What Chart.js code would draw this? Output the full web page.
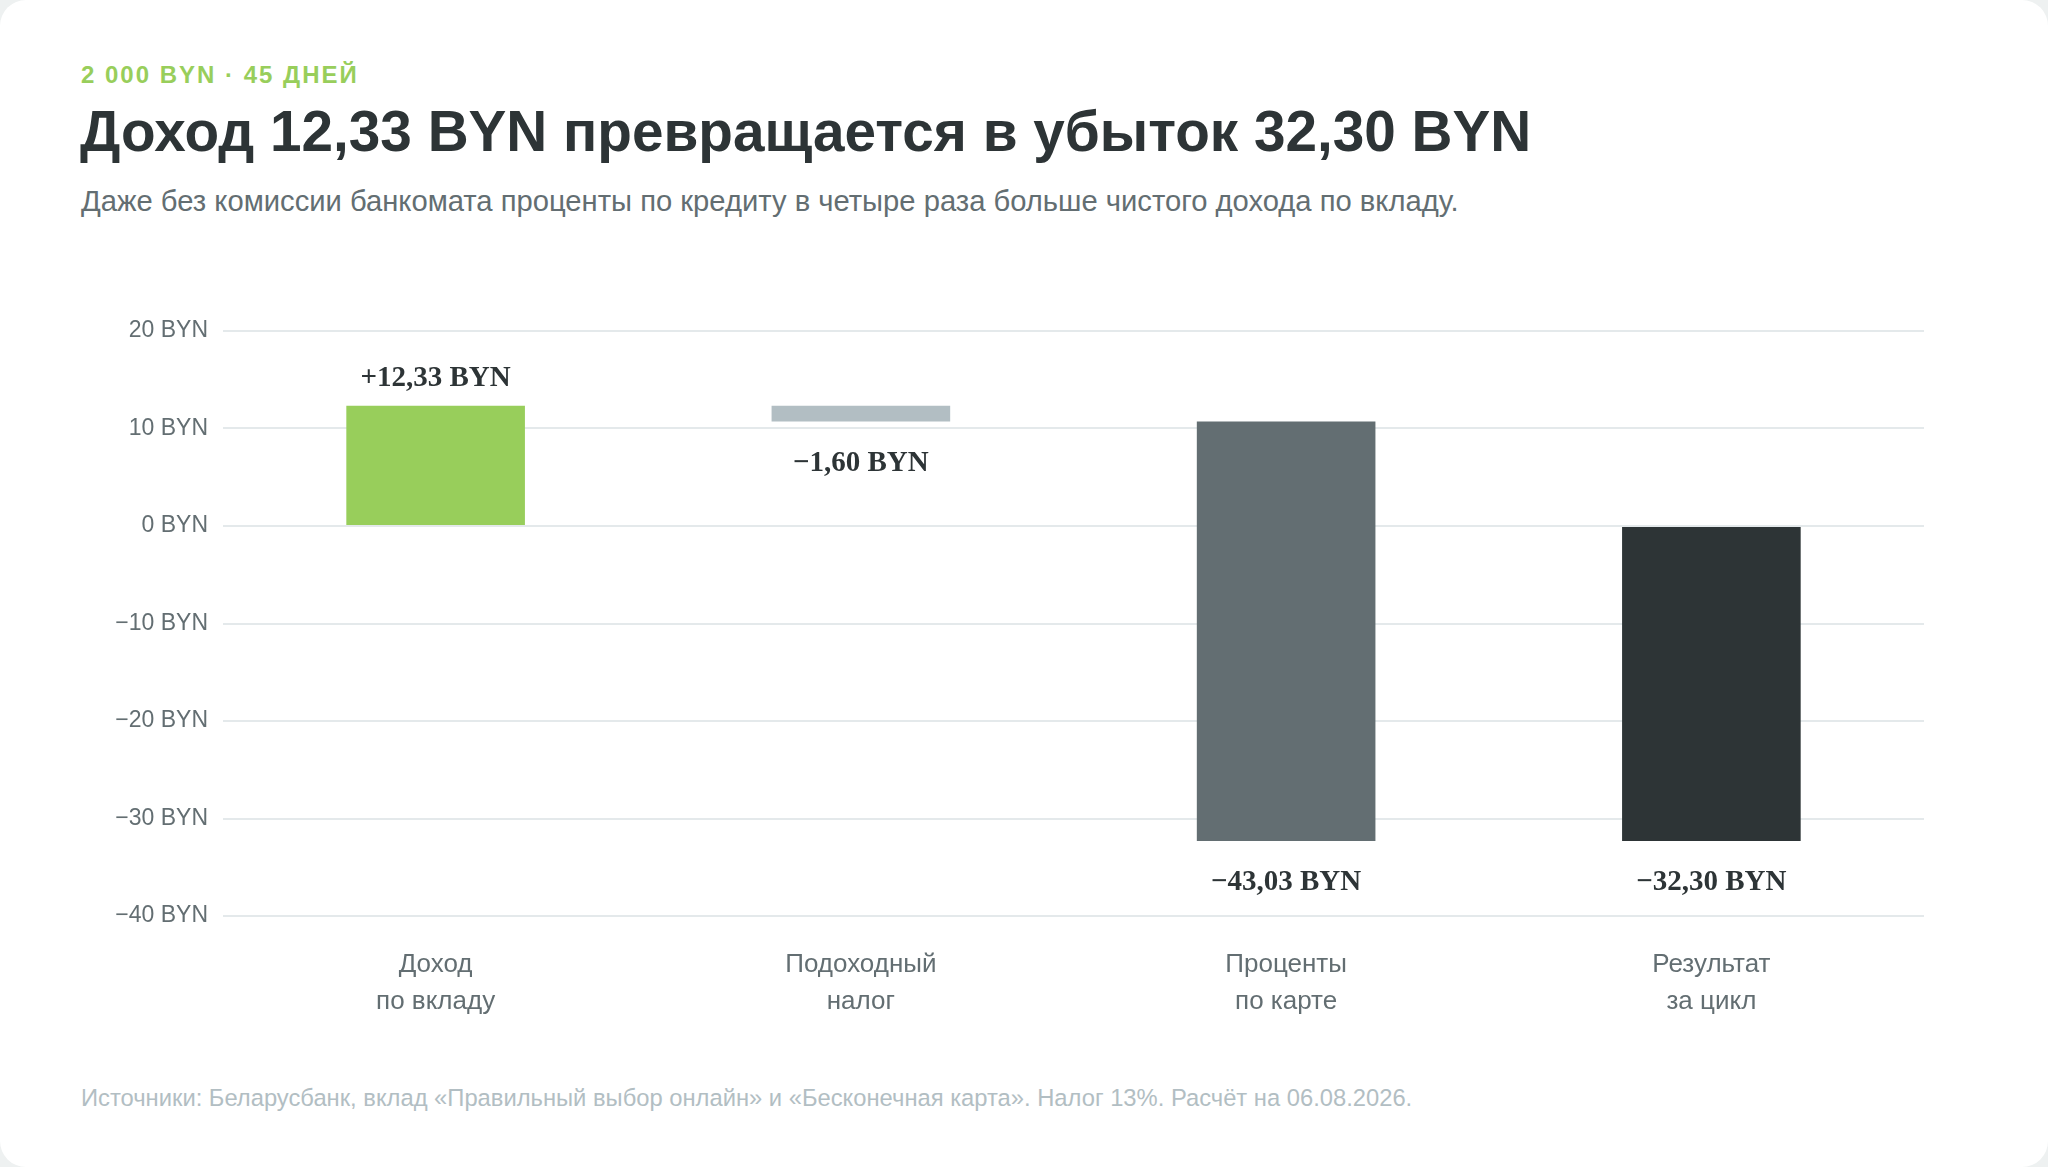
<!DOCTYPE html>
<html lang="ru">
<head>
<meta charset="utf-8">
<script src="https://cdn.jsdelivr.net/npm/chart.js@4"></script>
<style>
  html, body { margin: 0; padding: 0; }
  body { width: 2048px; height: 1167px; background: #eef1f1; font-family: "Liberation Sans", Arial, sans-serif; overflow: hidden; }
  .card { position: absolute; left: 0; top: 0; width: 2048px; height: 1167px; background: #ffffff; border-radius: 26px; }
  .eyebrow { position: absolute; left: 81px; top: 61px; font-size: 24px; font-weight: 700; color: #98ce5b; letter-spacing: 2px; white-space: nowrap; }
  .title { position: absolute; left: 80px; top: 99px; font-size: 56.7px; font-weight: 700; color: #2d3436; white-space: nowrap; }
  .subtitle { position: absolute; left: 81px; top: 185px; font-size: 29.2px; color: #636e72; white-space: nowrap; }
  .footer { position: absolute; left: 81px; top: 1084px; font-size: 23.75px; color: #b2bec3; white-space: nowrap; }
  .chartbox { position: absolute; left: 0; top: 291px; width: 2048px; height: 750px; }
</style>
</head>
<body>
<div class="card">
  <div class="eyebrow">2 000 BYN · 45 ДНЕЙ</div>
  <div class="title">Доход 12,33 BYN превращается в убыток 32,30 BYN</div>
  <div class="subtitle">Даже без комиссии банкомата проценты по кредиту в четыре раза больше чистого дохода по вкладу.</div>
  <div class="chartbox"><canvas id="c"></canvas></div>
  <div class="footer">Источники: Беларусбанк, вклад «Правильный выбор онлайн» и «Бесконечная карта». Налог 13%. Расчёт на 06.08.2026.</div>
</div>
<script>
// ---- data ----
const categories = [["Доход", "по вкладу"], ["Подоходный", "налог"], ["Проценты", "по карте"], ["Результат", "за цикл"]];
const changes = [12.33, -1.60, -43.03, -32.30];   // value of each step
const isTotal = [false, false, false, true];       // last bar is the total
const barColors = ["#98ce5b", "#b2bec3", "#636e72", "#2d3436"];
const yTicks = [20, 10, 0, -10, -20, -30, -40];

// floating ranges for the waterfall
const ranges = [];
let running = 0;
changes.forEach((v, i) => {
  if (isTotal[i]) { ranges.push([0, v]); }
  else { ranges.push([running, running + v]); running += v; }
});

const fmtNum = (v, dec) => {
  const s = Math.abs(v).toFixed(dec).replace('.', ',');
  return (v < 0 ? '\u2212' : '') + s;
};
const fmtLabel = v => (v > 0 ? '+' : '\u2212') + Math.abs(v).toFixed(2).replace('.', ',') + ' BYN';

const valueLabels = {
  id: 'valueLabels',
  afterDatasetsDraw(chart) {
    const ctx = chart.ctx;
    const meta = chart.getDatasetMeta(0);
    ctx.save();
    ctx.font = 'bold 29px "Liberation Serif", "Times New Roman", serif';
    ctx.fillStyle = '#2d3436';
    ctx.textAlign = 'center';
    ctx.textBaseline = 'middle';
    meta.data.forEach((el, i) => {
      const v = changes[i];
      const top = Math.min(el.y, el.base);
      const bottom = Math.max(el.y, el.base);
      const y = v > 0 ? top - 27 : bottom + 42;
      ctx.fillText(fmtLabel(v), el.x, y);
    });
    ctx.restore();
  }
};

new Chart(document.getElementById('c'), {
  type: 'bar',
  data: {
    labels: categories,
    datasets: [{
      data: ranges,
      backgroundColor: barColors,
      borderWidth: 0,
      borderSkipped: false,
      categoryPercentage: 1,
      barPercentage: 0.42
    }]
  },
  options: {
    responsive: true,
    maintainAspectRatio: false,
    devicePixelRatio: 1,
    animation: false,
    layout: { padding: { top: 40, right: 124, left: 0, bottom: 0 } },
    plugins: { legend: { display: false }, tooltip: { enabled: false } },
    scales: {
      x: {
        grid: { display: false, drawTicks: false },
        border: { display: false },
        ticks: {
          padding: 31,
          color: '#636e72',
          font: { family: '"Liberation Sans", Arial, sans-serif', size: 26, lineHeight: 1.4 }
        },
        afterFit(s) { s.height = 125; }
      },
      y: {
        min: -40, max: 20,
        afterBuildTicks(s) { s.ticks = yTicks.map(v => ({ value: v })); },
        grid: { color: '#e4e9eb', lineWidth: 2, drawTicks: false },
        border: { display: false },
        ticks: {
          padding: 15,
          color: '#636e72',
          font: { family: '"Liberation Sans", Arial, sans-serif', size: 23 },
          callback: v => fmtNum(v, 0) + ' BYN'
        },
        afterFit(s) { s.width = 223; }
      }
    }
  },
  plugins: [valueLabels]
});
</script>
</body>
</html>
